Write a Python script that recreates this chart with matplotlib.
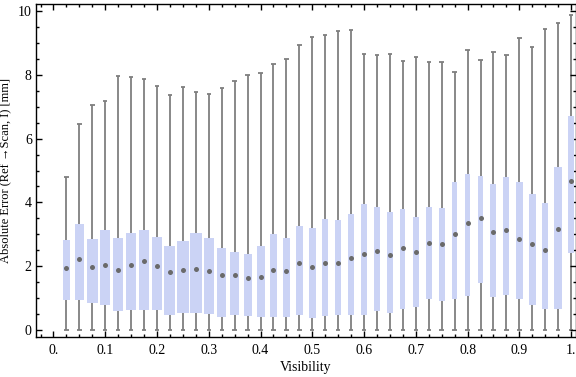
import matplotlib.pyplot as plt
from matplotlib.ticker import MultipleLocator
import numpy as np

# visibility bins (box centres)
visibility = [0.025 * (i + 1) for i in range(40)]

# whisker tops (max), box top (q3), median, box bottom (q1), whisker bottom (min)
w_max = [4.79, 6.46, 7.04, 7.17, 7.95, 7.92, 7.86, 7.64, 7.36, 7.61,
         7.45, 7.39, 7.58, 7.82, 7.98, 8.06, 8.33, 8.49, 8.95, 9.18,
         9.25, 9.36, 9.39, 8.64, 8.61, 8.64, 8.42, 8.55, 8.39, 8.39,
         8.08, 8.77, 8.45, 8.73, 8.61, 9.14, 8.86, 9.45, 9.61, 9.86]
q3 = [2.82, 3.32, 2.85, 3.13, 2.88, 3.04, 3.13, 2.92, 2.63, 2.79,
      3.04, 2.88, 2.57, 2.45, 2.38, 2.63, 3.00, 2.87, 3.25, 3.19,
      3.47, 3.45, 3.64, 3.95, 3.86, 3.70, 3.79, 3.54, 3.86, 3.81,
      4.64, 4.89, 4.83, 4.58, 4.80, 4.64, 4.26, 3.98, 5.12, 6.71]
median = [1.94, 2.23, 1.98, 2.05, 1.88, 2.05, 2.15, 2.02, 1.83, 1.87,
          1.92, 1.86, 1.71, 1.72, 1.62, 1.67, 1.87, 1.84, 2.09, 1.97,
          2.09, 2.09, 2.27, 2.37, 2.49, 2.34, 2.58, 2.44, 2.73, 2.69,
          3.00, 3.35, 3.50, 3.06, 3.13, 2.84, 2.69, 2.50, 3.18, 4.68]
q1 = [0.95, 0.95, 0.84, 0.79, 0.61, 0.64, 0.64, 0.64, 0.48, 0.54,
      0.54, 0.51, 0.42, 0.48, 0.45, 0.42, 0.42, 0.42, 0.48, 0.39,
      0.45, 0.48, 0.48, 0.48, 0.61, 0.54, 0.67, 0.73, 0.98, 0.92,
      0.98, 1.06, 1.48, 1.02, 1.09, 0.98, 0.79, 0.67, 0.67, 2.42]
w_min = [0.0] * 40

# box widths in pixels as drawn in the original
box_px = [7, 9, 11, 10, 10, 10, 10, 10, 11, 12, 12, 10, 9, 9, 8, 8, 7, 7, 7, 7,
          6, 6, 6, 6, 6, 6, 5, 6, 6, 6, 5, 5, 5, 6, 6, 7, 7, 6, 8, 6]

plt.rcParams['font.family'] = ['Liberation Serif', 'DejaVu Serif']

fig = plt.figure(figsize=(5.76, 3.77), dpi=100)
ax = fig.add_axes([36 / 576, 1 - 337 / 377, (575.5 - 36) / 576, (337 - 4) / 377])

px_per_unit = 517.6
widths = [p / px_per_unit for p in box_px]
box_col = '#cbd3f5'
line_col = '#7f7f7f'

x = np.array(visibility)
ax.vlines(x, w_min, q1, color=line_col, lw=1.3, zorder=1)
ax.vlines(x, q3, w_max, color=line_col, lw=1.3, zorder=1)
cap = 2.2 / px_per_unit
ax.hlines(w_max, x - cap, x + cap, color=line_col, lw=1.3, zorder=1)
ax.hlines(w_min, x - cap, x + cap, color=line_col, lw=1.3, zorder=1)
ax.bar(x, np.array(q3) - np.array(q1), bottom=q1, width=widths,
       color=box_col, edgecolor='none', zorder=2)
ax.plot(x, median, ls='none', marker='o', ms=3.6, color='#6a6a6a',
        mec='none', zorder=3)

ax.set_xlim(-0.0338, 1.0085)
ax.set_ylim(-0.22, 10.22)

ax.xaxis.set_minor_locator(MultipleLocator(0.025))
ax.yaxis.set_major_locator(MultipleLocator(2))
ax.yaxis.set_minor_locator(MultipleLocator(0.5))
xt = np.arange(0, 1.01, 0.1)
ax.set_xticks(xt)
ax.set_xticklabels(['0.'] + ['%.1f' % v for v in xt[1:-1]] + ['1.'])

ax.tick_params(which='both', direction='in', top=True, right=True,
               labelsize=10, width=1, colors='black')
ax.tick_params(axis='y', pad=3)
ax.tick_params(axis='x', pad=5)
ax.tick_params(which='major', length=4)
ax.tick_params(which='minor', length=2.5)
for s in ax.spines.values():
    s.set_linewidth(1)

ax.set_xlabel('Visibility', fontsize=10, labelpad=3)
ax.set_ylabel('Absolute Error (Ref \u2192Scan, I) [mm]', fontsize=9, labelpad=5)

fig.savefig('out.png', dpi=100)
